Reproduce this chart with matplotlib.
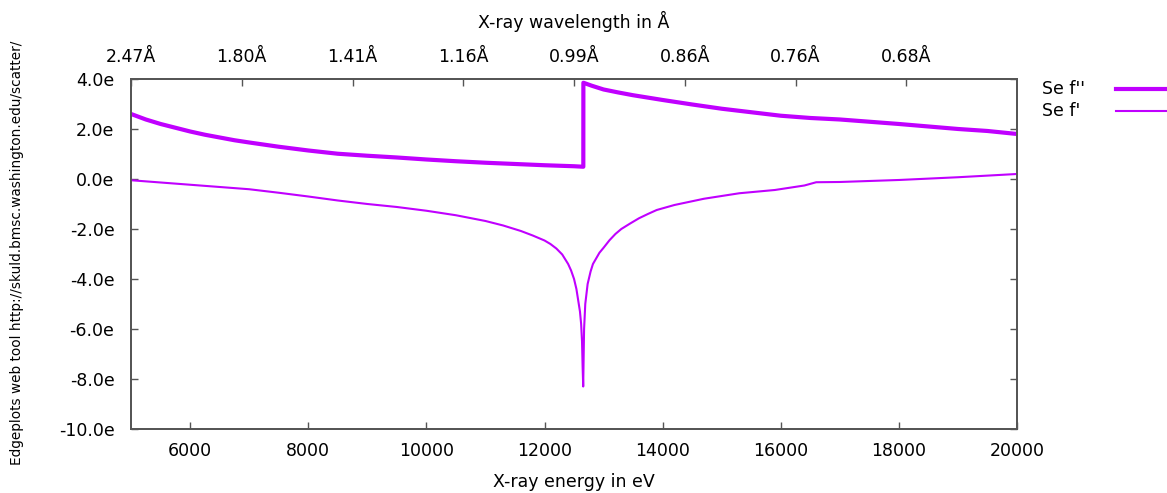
import matplotlib
matplotlib.use("Agg")
import matplotlib.pyplot as plt
from matplotlib.lines import Line2D
from matplotlib.ticker import FixedLocator, FixedFormatter

# Se f'' (anomalous, imaginary part)
fpp_energy = [5000, 5250, 5500, 5750, 6000, 6250, 6500, 6750, 7000, 7500, 8000,
              8500, 9000, 9500, 10000, 10500, 11000, 11500, 12000, 12500, 12657,
              12658, 12800, 13000, 13250, 13500, 14000, 14500, 15000, 15500, 16000,
              16500, 17000, 17500, 18000, 18500, 19000, 19500, 20000]
fpp_value = [2.60, 2.38, 2.20, 2.05, 1.90, 1.77, 1.66, 1.55, 1.46, 1.29, 1.14,
             1.01, 0.93, 0.86, 0.78, 0.71, 0.65, 0.60, 0.55, 0.51, 0.49,
             3.85, 3.73, 3.58, 3.46, 3.35, 3.16, 2.98, 2.81, 2.67, 2.53,
             2.44, 2.38, 2.29, 2.20, 2.10, 2.00, 1.92, 1.80]

# Se f' (real part)
fp_energy = [5000, 5500, 6000, 6500, 7000, 7500, 8000, 8500, 9000, 9500, 10000,
             10500, 11000, 11300, 11600, 11800, 12000, 12100, 12200, 12300, 12400,
             12450, 12500, 12540, 12570, 12600, 12620, 12635, 12645, 12655,
             12662, 12670, 12690, 12730, 12780, 12820, 12930, 13000, 13100, 13200,
             13300, 13450, 13600, 13750, 13900, 14200, 14700, 15300, 15900, 16400,
             16600, 17000, 18000, 19000, 20000]
fp_value = [-0.05, -0.14, -0.23, -0.32, -0.41, -0.55, -0.70, -0.86, -1.00, -1.12, -1.27,
            -1.45, -1.68, -1.86, -2.08, -2.26, -2.46, -2.60, -2.78, -3.02, -3.40,
            -3.66, -4.00, -4.40, -4.85, -5.30, -5.80, -6.50, -7.50, -8.30,
            -7.20, -6.00, -5.00, -4.20, -3.70, -3.40, -2.95, -2.75, -2.45, -2.20,
            -2.00, -1.78, -1.57, -1.40, -1.24, -1.04, -0.79, -0.57, -0.44, -0.26,
            -0.13, -0.12, -0.04, 0.07, 0.20]

series_labels = ["Se f''", "Se f'"]

# axis ticks
x_ticks = [6000, 8000, 10000, 12000, 14000, 16000, 18000, 20000]
y_ticks = [4, 2, 0, -2, -4, -6, -8, -10]
y_labels = ["4.0e", "2.0e", "0.0e", "-2.0e", "-4.0e", "-6.0e", "-8.0e", "-10.0e"]
top_ticks = [5000, 6875, 8750, 10625, 12500, 14375, 16250, 18125]
top_labels = ["2.47Å", "1.80Å", "1.41Å", "1.16Å", "0.99Å", "0.86Å", "0.76Å", "0.68Å"]

color = "#c000ff"
axis_color = "#555555"
fs = 12.5

fig = plt.figure(figsize=(11.67, 4.93), dpi=100)
ax = fig.add_axes([0.1123, 0.1298, 0.7592, 0.7100])

ax.plot(fpp_energy, fpp_value, color=color, lw=3.0)
ax.plot(fp_energy, fp_value, color=color, lw=1.5)

ax.set_xlim(5000, 20000)
ax.set_ylim(-10, 4)

ax.xaxis.set_major_locator(FixedLocator(x_ticks))
ax.yaxis.set_major_locator(FixedLocator(y_ticks))
ax.yaxis.set_major_formatter(FixedFormatter(y_labels))
ax.tick_params(axis="x", direction="in", length=5, width=1, color=axis_color,
               labelsize=fs, pad=9, top=False)
ax.tick_params(axis="y", direction="in", length=5, width=1, color=axis_color,
               labelsize=fs, pad=12, right=True)
for sp in ax.spines.values():
    sp.set_color(axis_color)
    sp.set_linewidth(1.3)

ax.set_xlabel("X-ray energy in eV", fontsize=fs, labelpad=10)

top = ax.twiny()
top.set_xlim(ax.get_xlim())
top.xaxis.set_major_locator(FixedLocator(top_ticks))
top.xaxis.set_major_formatter(FixedFormatter(top_labels))
top.tick_params(axis="x", direction="in", length=5, width=1, color=axis_color,
                labelsize=fs, pad=9)
for sp in top.spines.values():
    sp.set_color(axis_color)
    sp.set_linewidth(1.3)
top.set_xlabel("X-ray wavelength in Å", fontsize=fs, labelpad=15)

# gnuplot-style key: text on the left, sample line on the right
W, H = 1167.0, 493.0
for i, (lab, lw) in enumerate(zip(series_labels, [3.0, 1.5])):
    yk = 89 + 22 * i
    fig.text(1042 / W, 1 - yk / H, lab, fontsize=fs, ha="left", va="center")
    fig.add_artist(Line2D([1116 / W, 1.01], [1 - yk / H, 1 - yk / H],
                          transform=fig.transFigure, color=color, lw=lw))

fig.text(0.0146, 0.488, "Edgeplots web tool http://skuld.bmsc.washington.edu/scatter/",
         rotation=90, fontsize=9.8, ha="center", va="center")

fig.savefig("out.png", dpi=100)
